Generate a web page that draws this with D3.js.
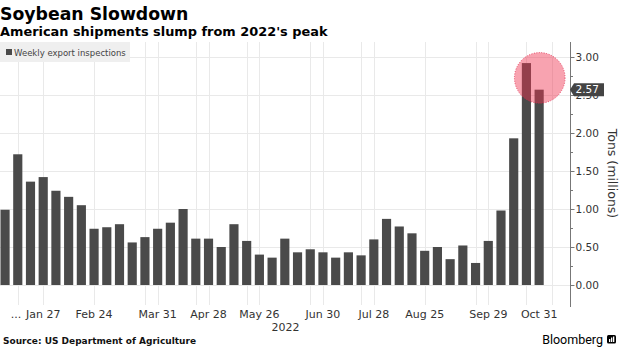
<!DOCTYPE html>
<html>
<head>
<meta charset="utf-8">
<script src="https://cdn.jsdelivr.net/npm/d3@7"></script>
<style>
  body { margin: 0; background: #fff; }
  svg { display: block; font-family: "DejaVu Sans", sans-serif; }
</style>
</head>
<body>
<svg id="chart" width="620" height="348"></svg>
<script>
// Weekly US soybean export inspections, 2022 (million tons)
const weeks = [
  "Jan 6","Jan 13","Jan 20","Jan 27","Feb 3","Feb 10","Feb 17","Feb 24",
  "Mar 3","Mar 10","Mar 17","Mar 24","Mar 31","Apr 7","Apr 14","Apr 21","Apr 28",
  "May 5","May 12","May 19","May 26","Jun 2","Jun 9","Jun 16","Jun 23","Jun 30",
  "Jul 7","Jul 14","Jul 21","Jul 28","Aug 4","Aug 11","Aug 18","Aug 25",
  "Sep 1","Sep 8","Sep 15","Sep 22","Sep 29","Oct 6","Oct 13","Oct 20","Oct 31"
];
const inspections = [
  0.99, 1.72, 1.36, 1.42, 1.24, 1.16, 1.05, 0.74,
  0.76, 0.80, 0.56, 0.63, 0.74, 0.82, 1.00, 0.61, 0.61,
  0.50, 0.80, 0.58, 0.40, 0.36, 0.61, 0.43, 0.47, 0.43,
  0.36, 0.43, 0.39, 0.60, 0.87, 0.77, 0.68, 0.45,
  0.50, 0.34, 0.52, 0.29, 0.58, 0.98, 1.93, 2.92, 2.57
];
const labelledWeeks = ["Jan 27","Feb 24","Mar 31","Apr 28","May 26","Jun 30","Jul 28","Aug 25","Sep 29","Oct 31"];
const gridWeekIdx = [1, 3, 7, 11, 12, 15, 16, 19, 20, 24, 25, 28, 29, 33, 37, 38, 41, 43];
const yTickValues = [0, 0.5, 1, 1.5, 2, 2.5, 3];
const yMinorValues = [0.25, 0.75, 1.25, 1.75, 2.25, 2.75];
const yearLabel = "2022";
const seriesName = "Weekly export inspections";

const svg = d3.select("#chart");
const plot = { left: 0, right: 570, top: 42, bottom: 285 };

const x = d3.scaleBand().domain(weeks).range([-1.3, 545.5])
  .paddingInner(0.28).paddingOuter(0.14);
const y = d3.scaleLinear().domain([0, 3]).range([plot.bottom, 57]);
const step = x.step(), bw = x.bandwidth();
const weekCenter = i => x(weeks[0]) + i * step + bw / 2;

// Title block
svg.append("text").attr("x", 0).attr("y", 20)
  .attr("font-size", 17.3).attr("font-weight", "bold").attr("fill", "#000")
  .text("Soybean Slowdown");
svg.append("text").attr("x", 0).attr("y", 36)
  .attr("font-size", 12.9).attr("font-weight", "bold").attr("fill", "#000")
  .text("American shipments slump from 2022's peak");

// Gridlines
const grid = svg.append("g").attr("stroke", "#e9e9e9").attr("stroke-width", 1);
grid.selectAll("line.h").data(yTickValues).join("line")
  .attr("x1", plot.left).attr("x2", plot.right)
  .attr("y1", d => Math.round(y(d)) + 0.5).attr("y2", d => Math.round(y(d)) + 0.5);
grid.selectAll("line.v").data(gridWeekIdx).join("line")
  .attr("x1", d => Math.round(weekCenter(d)) + 0.5).attr("x2", d => Math.round(weekCenter(d)) + 0.5)
  .attr("y1", plot.top).attr("y2", 305);

// Legend
const legend = svg.append("g");
legend.append("rect").attr("x", 0).attr("y", 42).attr("width", 130).attr("height", 20)
  .attr("fill", "#efefef");
legend.append("rect").attr("x", 6).attr("y", 49).attr("width", 6).attr("height", 6).attr("fill", "#4a4a4a");
legend.append("text").attr("x", 14).attr("y", 55.5).attr("font-size", 8.5).attr("fill", "#444")
  .text(seriesName);

// Bars
svg.append("g").selectAll("rect").data(inspections).join("rect")
  .attr("x", (d, i) => x(weeks[i]))
  .attr("width", bw)
  .attr("y", d => y(d))
  .attr("height", d => y(0) - y(d))
  .attr("fill", "#4a4a4a");

// Highlight around the autumn peak
const n = inspections.length;
svg.append("circle")
  .attr("cx", weekCenter(n - 1) + 0.6)
  .attr("cy", y((inspections[n - 1] + inspections[n - 2]) / 2) + 1.5)
  .attr("r", 25.3)
  .attr("fill", "rgba(240,50,80,0.45)")
  .attr("stroke", "rgba(225,40,75,0.8)")
  .attr("stroke-width", 1)
  .attr("stroke-dasharray", "1,1.5");

// Right value axis
const yAxis = svg.append("g").attr("transform", `translate(${plot.right + 0.5},0)`);
yAxis.append("line").attr("x1", 0).attr("x2", 0).attr("y1", plot.top).attr("y2", 307)
  .attr("stroke", "#777");
yAxis.selectAll("line.minor").data(yMinorValues).join("line")
  .attr("x1", 0).attr("x2", 2.5)
  .attr("y1", d => Math.round(y(d)) + 0.5).attr("y2", d => Math.round(y(d)) + 0.5)
  .attr("stroke", "#777");
yAxis.selectAll("line.major").data(yTickValues).join("line")
  .attr("x1", 0).attr("x2", 4)
  .attr("y1", d => Math.round(y(d)) + 0.5).attr("y2", d => Math.round(y(d)) + 0.5)
  .attr("stroke", "#777");
yAxis.selectAll("text").data(yTickValues).join("text")
  .attr("x", 5).attr("y", d => y(d)).attr("dy", "0.35em")
  .attr("font-size", 10.5).attr("fill", "#333")
  .text(d3.format(".2f"));

svg.append("text")
  .attr("transform", `translate(608,${(plot.top + plot.bottom) / 2 + 10}) rotate(90)`)
  .attr("text-anchor", "middle").attr("font-size", 12.5).attr("fill", "#333")
  .text("Tons (millions)");

// Latest value callout
const last = inspections[n - 1];
const ly = y(last);
const callout = svg.append("g");
callout.append("path")
  .attr("d", `M${plot.right},${ly} L${plot.right + 4},${ly - 6.5} L${plot.right + 34},${ly - 6.5} L${plot.right + 34},${ly + 6.5} L${plot.right + 4},${ly + 6.5} Z`)
  .attr("fill", "#444");
callout.append("text").attr("x", plot.right + 5.5).attr("y", ly).attr("dy", "0.36em")
  .attr("font-size", 10.5).attr("fill", "#fff")
  .text(d3.format(".2f")(last));

// Week axis labels
const xLabels = svg.append("g").attr("font-size", 11).attr("fill", "#333").attr("text-anchor", "middle");
xLabels.selectAll("text").data(labelledWeeks).join("text")
  .attr("x", d => x(d) + bw / 2).attr("y", 318)
  .text(d => d);
xLabels.append("text").attr("x", x(labelledWeeks[0]) + bw / 2 - 22).attr("y", 318)
  .attr("text-anchor", "end").text("...");
xLabels.append("text").attr("x", 285.5).attr("y", 330.5).text(yearLabel);

// Footer
svg.append("text").attr("x", 3).attr("y", 344)
  .attr("font-size", 9).attr("font-weight", "bold").attr("fill", "#111")
  .text("Source: US Department of Agriculture");
svg.append("text").attr("x", 603).attr("y", 343.5).attr("text-anchor", "end")
  .attr("font-family", "Roboto, sans-serif").attr("font-size", 12.5).attr("fill", "#000")
  .text("Bloomberg");
const logo = svg.append("g").attr("transform", "translate(607,335)");
logo.append("rect").attr("width", 9).attr("height", 8.5).attr("rx", 1.5).attr("fill", "#000");
logo.append("rect").attr("x", 2).attr("y", 4).attr("width", 1.3).attr("height", 3).attr("fill", "#fff");
logo.append("rect").attr("x", 4).attr("y", 2.5).attr("width", 1.3).attr("height", 4.5).attr("fill", "#fff");
logo.append("rect").attr("x", 6).attr("y", 1.5).attr("width", 1.3).attr("height", 5.5).attr("fill", "#fff");
</script>
</body>
</html>
